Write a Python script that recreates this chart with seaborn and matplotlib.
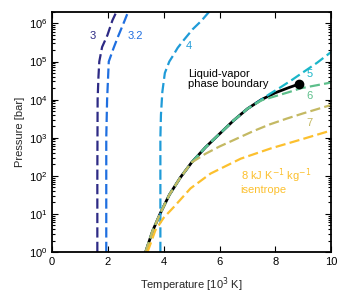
import numpy as np
import pandas as pd
import matplotlib
matplotlib.use("Agg")
import matplotlib.pyplot as plt
import seaborn as sns

# temperature in 10^3 K, pressure as log10(bar)
t_bound = [3.35, 3.6, 3.88, 4.2, 4.6, 5.0, 5.5, 6.0, 6.5, 7.0, 7.5, 8.0, 8.5, 8.85]
lp_bound = [0.0, 0.55, 1.02, 1.5, 1.96, 2.35, 2.75, 3.1, 3.45, 3.76, 4.0, 4.18, 4.32, 4.41]

t_s3 = [1.62, 1.62, 1.63, 1.66, 1.69, 1.79, 1.98, 2.16, 2.3]
lp_s3 = [0.0, 2.0, 4.0, 4.6, 5.0, 5.38, 5.69, 6.08, 6.3]

t_s32 = [1.94, 1.94, 1.97, 2.03, 2.2, 2.37, 2.59, 2.72]
lp_s32 = [0.0, 3.0, 4.0, 5.0, 5.35, 5.67, 6.06, 6.3]

t_s4 = [3.88, 3.88, 3.9, 3.95, 4.04, 4.2, 4.32, 4.5, 4.68, 5.04, 5.35, 5.62]
lp_s4 = [0.0, 3.0, 3.6, 4.2, 4.7, 5.0, 5.14, 5.36, 5.53, 5.85, 6.07, 6.3]

t_s5 = t_bound[:11] + [7.8, 8.2, 8.6, 9.0, 9.5, 10.0]
lp_s5 = lp_bound[:11] + [4.15, 4.33, 4.52, 4.72, 4.97, 5.25]

t_s6 = t_bound[:10] + [7.5, 7.95, 8.5, 8.92, 9.5, 10.0]
lp_s6 = lp_bound[:10] + [3.98, 4.08, 4.2, 4.3, 4.38, 4.45]

t_s7 = t_bound[:6] + [5.5, 6.0, 6.6, 7.2, 7.8, 8.4, 9.0, 9.5, 10.0]
lp_s7 = lp_bound[:6] + [2.58, 2.77, 2.97, 3.17, 3.35, 3.5, 3.64, 3.75, 3.86]

t_s8 = [3.42, 3.7, 4.0, 4.36, 4.96, 5.68, 6.76, 7.84, 9.0, 10.0]
lp_s8 = [0.0, 0.57, 0.9, 1.18, 1.67, 2.06, 2.45, 2.72, 2.97, 3.19]

isentropes = [
    ("3", t_s3, lp_s3, "#2d2a85"),
    ("3.2", t_s32, lp_s32, "#1f6fe0"),
    ("4", t_s4, lp_s4, "#1f9bd8"),
    ("5", t_s5, lp_s5, "#1ab6c9"),
    ("6", t_s6, lp_s6, "#5dbf8b"),
    ("7", t_s7, lp_s7, "#c4b963"),
    ("8", t_s8, lp_s8, "#fcc02e"),
]

sns.set_style("ticks")
plt.rcParams["font.family"] = ["Liberation Sans", "DejaVu Sans"]
plt.rcParams["font.size"] = 8

fig = plt.figure(figsize=(3.5, 3.0), dpi=100)
ax = fig.add_axes([0.149, 0.16, 0.797, 0.80])

bound = pd.DataFrame({"T": t_bound, "P": np.power(10.0, lp_bound)})
sns.lineplot(data=bound, x="T", y="P", color="black", lw=2, sort=False,
             estimator=None, ax=ax)

for name, t, lp, col in isentropes:
    df = pd.DataFrame({"T": t, "P": np.power(10.0, lp)})
    sns.lineplot(data=df, x="T", y="P", color=col, lw=1.6, ls=(0, (4.6, 1.9)),
                 sort=False, estimator=None, ax=ax)

ax.plot(t_bound[-1], 10 ** lp_bound[-1], "o", color="black", ms=6, zorder=5)

ax.set_yscale("log")
ax.set_xlim(0, 10)
ax.set_ylim(1, 2e6)
ax.set_xticks([0, 2, 4, 6, 8, 10])
ax.set_yticks([1e0, 1e1, 1e2, 1e3, 1e4, 1e5, 1e6])
ax.tick_params(which="both", direction="in", top=True, right=True,
               labelsize=8, width=0.8, color="black", labelcolor="black")
ax.tick_params(which="major", length=4)
ax.tick_params(which="minor", length=2)
for sp in ax.spines.values():
    sp.set_linewidth(1.3)
    sp.set_color("black")

ax.set_xlabel("Temperature [10$^3$ K]", fontsize=8, labelpad=6)
ax.set_ylabel("Pressure [bar]", fontsize=8, labelpad=3)

# curve labels
ax.text(1.47, 10 ** 5.67, "3", color="#2d2a85", ha="center", va="center", fontsize=8)
ax.text(2.99, 10 ** 5.67, "3.2", color="#1f6fe0", ha="center", va="center", fontsize=8)
ax.text(4.89, 10 ** 5.40, "4", color="#1f9bd8", ha="center", va="center", fontsize=8)
ax.text(9.24, 10 ** 4.67, "5", color="#1ab6c9", ha="center", va="center", fontsize=8)
ax.text(9.24, 10 ** 4.10, "6", color="#5dbf8b", ha="center", va="center", fontsize=8)
ax.text(9.24, 10 ** 3.39, "7", color="#c4b963", ha="center", va="center", fontsize=8)
ax.text(6.76, 10 ** 1.88, "8 kJ K$^{-1}$ kg$^{-1}$\nisentrope", color="#fcc02e",
        ha="left", va="center", fontsize=8, linespacing=1.0)
ax.text(4.86, 10 ** 4.53, "Liquid-vapor\nphase boundary", color="black",
        ha="left", va="center", fontsize=8, linespacing=1.0)

if ax.get_legend() is not None:
    ax.get_legend().remove()

fig.savefig("out.png", dpi=100)
